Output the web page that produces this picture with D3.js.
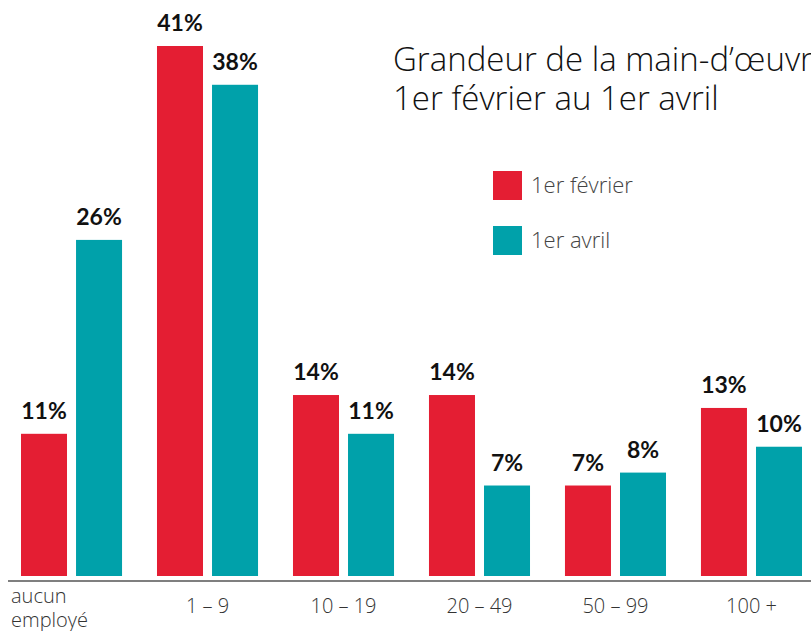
<!DOCTYPE html>
<html>
<head>
<meta charset="utf-8">
<script src="https://cdn.jsdelivr.net/npm/d3@7"></script>
<style>
  body { margin: 0; background: #fff; }
  svg { display: block; }
</style>
</head>
<body>
<svg id="chart" width="811" height="631"></svg>
<script>
// data
var categories = ["aucun employé", "1 – 9", "10 – 19", "20 – 49", "50 – 99", "100 +"];
var series = ["1er février", "1er avril"];
var fevrier = [11, 41, 14, 14, 7, 13];
var avril = [26, 38, 11, 7, 8, 10];
var colors = ["#e41e33", "#00a1aa"];

var svg = d3.select("#chart"),
    baseY = 576,
    lightFont = "'Open Sans', sans-serif";

var data = categories.map(function(c, i) {
  return {cat: c, values: [fevrier[i], avril[i]]};
});

var x0 = d3.scaleBand()
    .domain(categories)
    .range([21, 802])
    .paddingInner(0.257);

var x1 = d3.scaleBand()
    .domain(series)
    .range([0, x0.bandwidth()])
    .paddingInner(0.164);

var y = d3.scaleLinear()
    .domain([0, 41])
    .range([baseY, 46]);

var z = d3.scaleOrdinal().domain(series).range(colors);

var groups = svg.selectAll(".grp")
  .data(data)
  .enter().append("g")
    .attr("class", "grp")
    .attr("transform", function(d) { return "translate(" + x0(d.cat) + ",0)"; });

var cells = groups.selectAll(".cell")
  .data(function(d) { return series.map(function(s, i) { return {s: s, v: d.values[i]}; }); })
  .enter().append("g");

cells.append("rect")
    .attr("x", function(d) { return x1(d.s); })
    .attr("y", function(d) { return y(d.v); })
    .attr("width", x1.bandwidth())
    .attr("height", function(d) { return baseY - y(d.v); })
    .attr("fill", function(d) { return z(d.s); });

cells.append("text")
    .attr("x", function(d) { return x1(d.s) + x1.bandwidth() / 2; })
    .attr("y", function(d) { return y(d.v) - 15; })
    .attr("text-anchor", "middle")
    .attr("font-family", "Lato, sans-serif")
    .attr("font-weight", "bold")
    .attr("font-size", 23)
    .attr("fill", "#111")
    .text(function(d) { return d.v + "%"; });

// x axis
var axis = svg.append("g")
    .attr("transform", "translate(0,581)")
    .call(d3.axisBottom(x0).tickSize(0).tickPadding(0));

axis.select(".domain").remove();
axis.append("line")
    .attr("x1", 8).attr("x2", 811)
    .attr("stroke", "#555").attr("stroke-width", 1.5);

axis.selectAll(".tick text")
    .attr("font-family", lightFont)
    .attr("font-weight", 300)
    .attr("font-size", 20)
    .attr("fill", "#333")
    .attr("y", 32)
    .attr("dy", null);

var firstX = 11 - x0(categories[0]) - x0.bandwidth() / 2;
axis.selectAll(".tick").filter(function(d) { return d === categories[0]; })
  .select("text")
    .attr("text-anchor", "start")
    .text(null)
    .call(function(t) {
      categories[0].split(" ").forEach(function(w, i) {
        t.append("tspan")
          .attr("x", firstX)
          .attr("y", i === 0 ? 22 : 46)
          .text(w);
      });
    });

// title
var title = svg.append("text")
    .attr("font-family", lightFont)
    .attr("font-weight", 300)
    .attr("font-size", 33)
    .attr("fill", "#111");
title.append("tspan").attr("x", 393).attr("y", 71).text("Grandeur de la main-d’œuvre");
title.append("tspan").attr("x", 393).attr("y", 110).text("1er février au 1er avril");

// legend
var legend = svg.append("g")
  .selectAll("g")
  .data(series)
  .enter().append("g")
    .attr("transform", function(d, i) { return "translate(493," + (171 + i * 55) + ")"; });

legend.append("rect")
    .attr("width", 29)
    .attr("height", 29)
    .attr("fill", z);

legend.append("text")
    .attr("x", 38)
    .attr("y", 22)
    .attr("font-family", lightFont)
    .attr("font-weight", 300)
    .attr("font-size", 22)
    .attr("fill", "#444")
    .text(function(d) { return d; });
</script>
</body>
</html>
